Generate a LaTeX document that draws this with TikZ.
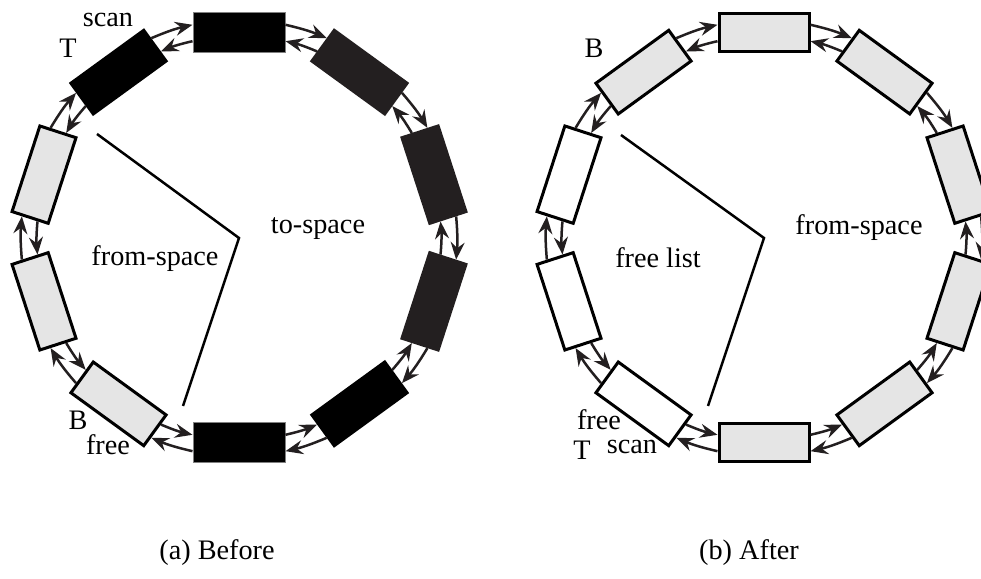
\documentclass[tikz,border=0pt]{standalone}
\usepackage{fontspec}
\setmainfont{Liberation Serif}
\usepackage{tikz}
\usetikzlibrary{arrows.meta}
\definecolor{tocolor}{HTML}{231F20}
\definecolor{fromcolor}{HTML}{E5E5E5}
\tikzset{every picture/.style={line width=0.75pt}}
\tikzset{
  cell/.style={line width=1.2pt, minimum width=36pt, minimum height=15.2pt, inner sep=0pt},
  fromcell/.style={cell, draw=black, fill=fromcolor},
  freecell/.style={cell, draw=black, fill=white},
  tocell/.style={cell, draw=tocolor, fill=tocolor},
  blackcell/.style={cell, draw=black, fill=black},
  endcell/.style={cell, line width=0.4pt, draw=gray, fill=black, minimum width=36.8pt, minimum height=16pt},
  link/.style={draw=tocolor, line width=1pt,
    -{Stealth[length=7pt,width=5.6pt,inset=2.4pt]}},
  lbl/.style={inner sep=0pt}
}

\begin{document}
\begin{tikzpicture}[x=0.4pt, y=0.4pt, font=\fontsize{11.3}{13.5}\selectfont]
\useasboundingbox (0,0) rectangle (981,579);
\clip (0,0) rectangle (981,579);
%
% before: from-space / to-space
\begin{scope}[shift={(239,341)}]
\coordinate (ca) at (0,0);
\foreach \i/\s in {0/endcell,1/tocell,2/tocell,3/tocell,4/blackcell,
                   5/endcell,6/fromcell,7/fromcell,8/fromcell,9/blackcell}
  \node[\s, rotate=-36*\i] (a\i) at (90-36*\i:205) {};
\end{scope}
\foreach \i in {0,...,9}{
  \pgfmathtruncatemacro\j{mod(\i+1,10)}
  \draw[link] (a\i.10) to[bend left=5] (a\j.170);
  \draw[link] (a\j.190) to[bend right=5] (a\i.-10);
}
\draw[line width=1pt] (97,445) -- (ca) -- (183,173);
\node[lbl] (scanA) at (108,559) {scan};
\node[lbl] (topA) at (68,531) {T};
\node[lbl] (botA) at (78,159) {B};
\node[lbl] (freeA) at (108,134) {free};
\node[lbl] (fromA) at (155,320) {from-space};
\node[lbl] (toA) at (318,350) {to-space};
\node[lbl] (capA) at (217,26) {(a) Before};
%
% after: free list / from-space
\begin{scope}[shift={(764,341)}]
\coordinate (cb) at (0,0);
\foreach \i/\s in {0/fromcell,1/fromcell,2/fromcell,3/fromcell,4/fromcell,
                   5/fromcell,6/freecell,7/freecell,8/freecell,9/fromcell}
  \node[\s, rotate=-36*\i] (b\i) at (90-36*\i:205) {};
\end{scope}
\foreach \i in {0,...,9}{
  \pgfmathtruncatemacro\j{mod(\i+1,10)}
  \draw[link] (b\i.10) to[bend left=5] (b\j.170);
  \draw[link] (b\j.190) to[bend right=5] (b\i.-10);
}
\draw[line width=1pt] (621,444) -- (cb) -- (708,173);
\node[lbl] (botB) at (594,531) {B};
\node[lbl] (listB) at (658,321) {free list};
\node[lbl] (fromB) at (859,351) {from-space};
\node[lbl] (freeB) at (599,159) {free};
\node[lbl] (topB) at (582,129) {T};
\node[lbl] (scanB) at (632,132) {scan};
\node[lbl] (capB) at (749,26) {(b) After};
\end{tikzpicture}
\end{document}
